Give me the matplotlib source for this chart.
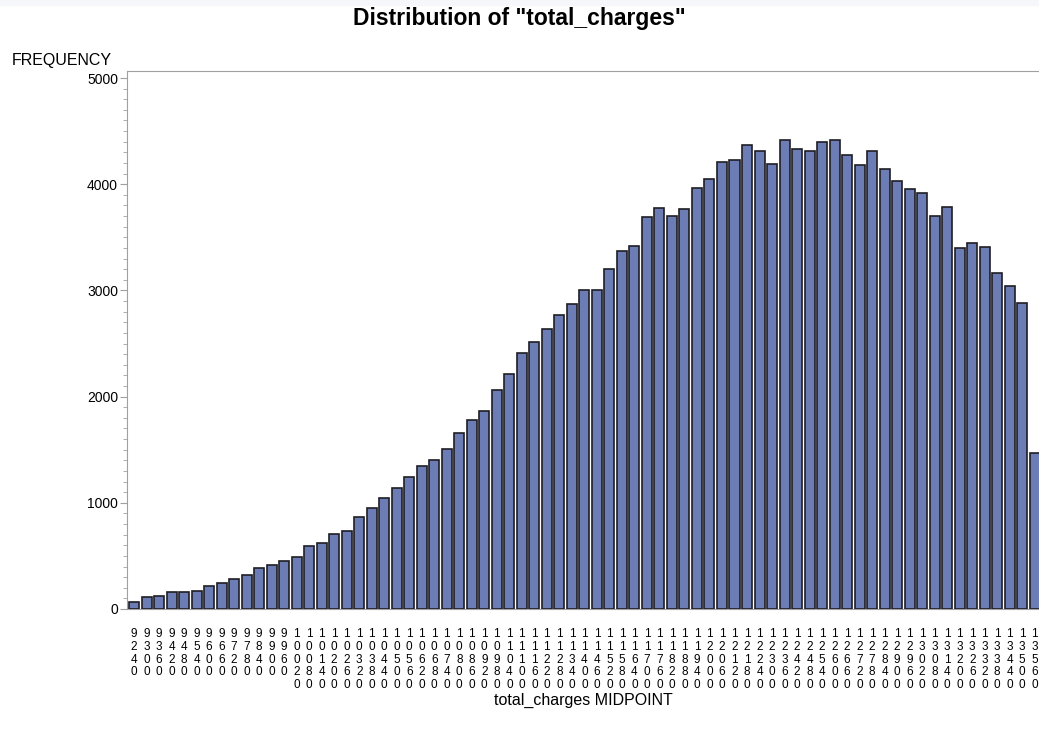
import numpy as np
import matplotlib.pyplot as plt
from matplotlib.ticker import MultipleLocator

plt.rcParams['font.family'] = ['Liberation Sans', 'DejaVu Sans']

# Bin midpoints of total_charges (step 60) and their frequencies
midpoints = list(range(9240, 13561, 60))
frequency = [
    66, 110, 122, 160, 160, 172, 219, 247, 281, 316,
    388, 416, 450, 485, 597, 620, 706, 732, 866, 950,
    1048, 1135, 1241, 1351, 1401, 1510, 1657, 1776, 1864, 2058,
    2214, 2411, 2514, 2636, 2764, 2873, 3005, 3005, 3205, 3374,
    3421, 3690, 3774, 3699, 3762, 3968, 4053, 4212, 4224, 4371,
    4309, 4187, 4418, 4334, 4309, 4393, 4418, 4271, 4177, 4309,
    4140, 4031, 3959, 3921, 3699, 3783, 3396, 3443, 3408, 3164,
    3046, 2883, 1473,
]

fig = plt.figure(figsize=(10.39, 7.38), dpi=100)
# faint band at the very top of the page
fig.patches.append(plt.Rectangle((0, 0.993), 1, 0.007, transform=fig.transFigure,
                                 color='#f6f7fb', zorder=0))

ax = fig.add_axes([127 / 1039, 1 - 609 / 738, 1 - 127 / 1039, (609 - 71) / 738])

x = np.arange(len(midpoints))
ax.bar(x, frequency, width=0.8, color='#6c7db5', edgecolor='#1e1e24',
       linewidth=1.2, zorder=3)

ax.set_xlim(-0.56, 72.34)
ax.set_ylim(0, 5066)

# stacked digits, one per line, like the original output
ax.set_xticks(x)
ax.set_xticklabels(['\n'.join(str(m)) for m in midpoints],
                   fontsize=8.5, linespacing=1.07)
ax.tick_params(axis='x', length=0, pad=14)

ax.yaxis.set_major_locator(MultipleLocator(1000))
ax.yaxis.set_minor_locator(MultipleLocator(100))
ax.tick_params(axis='y', which='major', length=5, color='#a0a0a0',
               labelsize=10, pad=1.5)
ax.tick_params(axis='y', which='minor', length=3, color='#a0a0a0')

for side in ['left', 'bottom', 'top']:
    ax.spines[side].set_color('#a0a0a0')
ax.spines['right'].set_visible(False)

fig.text(583 / 1039, 1 - 700 / 738, 'total_charges MIDPOINT', fontsize=11.5,
         ha='center', va='center')
fig.text(12 / 1039, 1 - 61 / 738, 'FREQUENCY', fontsize=11.5, va='center', ha='left')
fig.suptitle('Distribution of "total_charges"', fontsize=16.5, fontweight='bold',
             x=0.5, y=1 - 18 / 738, va='center')

fig.savefig('out.png', dpi=100)
